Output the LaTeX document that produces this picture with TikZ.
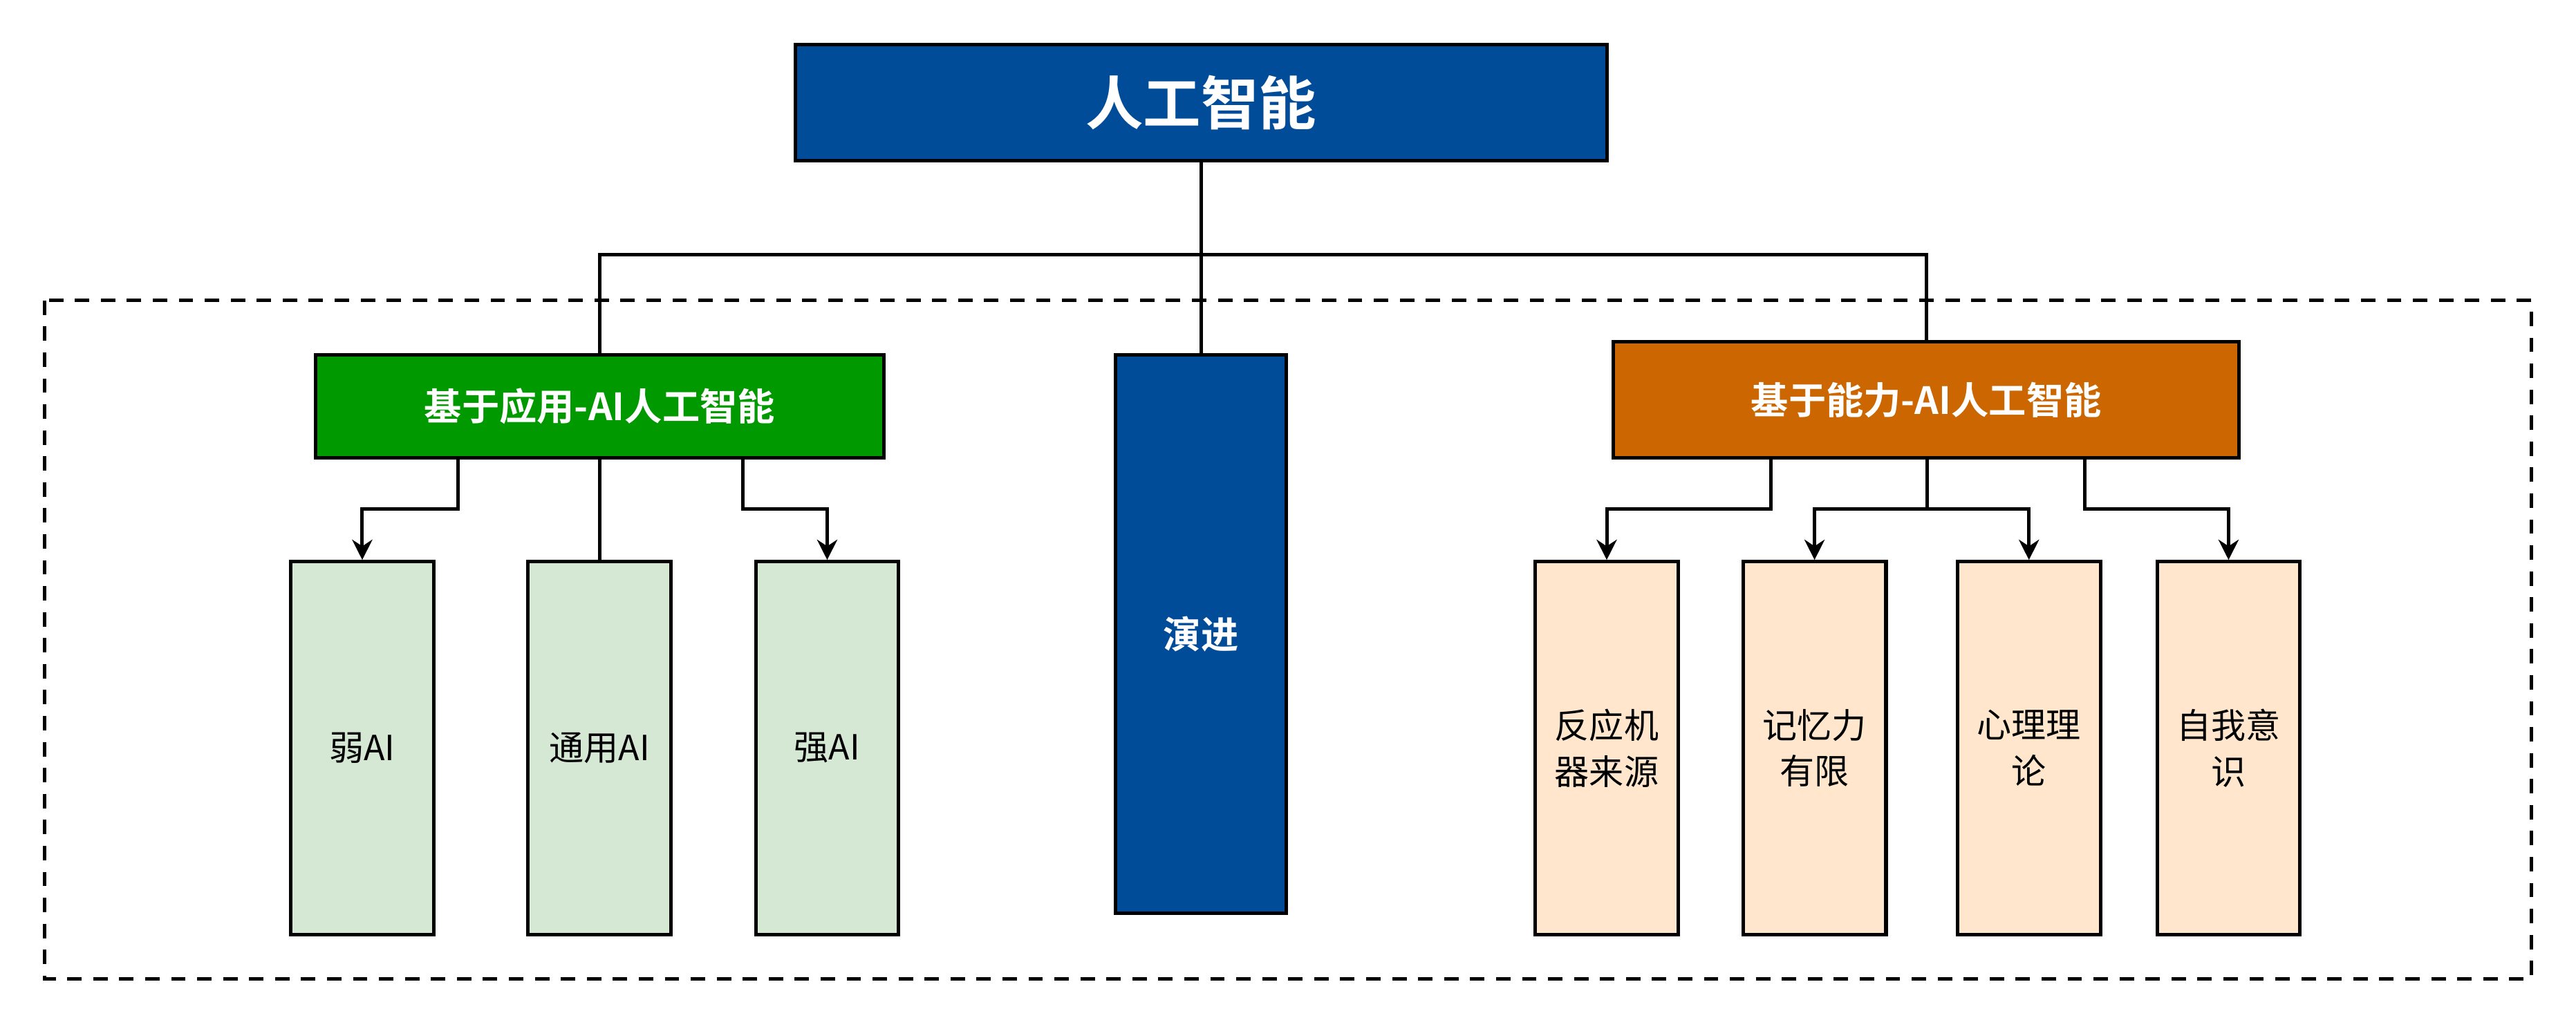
\documentclass[tikz,border=0pt]{standalone}
\usepackage{fontspec}
\setmainfont{Noto Sans CJK SC}
\newfontfamily\cjkb{Noto Sans CJK SC Bold}
\usetikzlibrary{arrows.meta}
\definecolor{dblue}{RGB}{0,76,153}
\definecolor{dgreen}{RGB}{0,153,0}
\definecolor{dorange}{RGB}{204,102,0}
\definecolor{lgreen}{RGB}{213,232,212}
\definecolor{lorange}{RGB}{255,230,204}
\begin{document}
\begin{tikzpicture}[x=0.02cm,y=-0.02cm,
  box/.style={draw=black,line width=1.2pt,inner sep=0},
  head/.style={box,text=white,font=\cjkb\fontsize{13}{15}\selectfont},
  leaf/.style={box,font=\fontsize{12}{16}\selectfont,align=center},
  ln/.style={line width=1.2pt},
  ar/.style={ln,-{Stealth[length=7pt,width=7pt]}}]
\useasboundingbox (0,0) rectangle (1568,621);
\fill[white] (0,0) rectangle (1568,621);
\draw[ln,dashed,dash pattern=on 5pt off 4pt] (27,183) rectangle (1541,596);
\node[head,fill=dblue,font=\cjkb\fontsize{20}{24}\selectfont,minimum width=494*0.02cm,minimum height=71*0.02cm] (top) at (731,62.5) {人工智能};
\node[head,fill=dgreen,minimum width=346*0.02cm,minimum height=63*0.02cm] (L) at (365,247.5) {基于应用-AI人工智能};
\node[head,fill=dblue,minimum width=104*0.02cm,minimum height=340*0.02cm] (M) at (731,386) {演进};
\node[head,fill=dorange,minimum width=381*0.02cm,minimum height=71*0.02cm] (R) at (1172.5,243.5) {基于能力-AI人工智能};
\tikzset{lf/.style={leaf,minimum width=87*0.02cm,minimum height=227*0.02cm}}
\node[lf,fill=lgreen] (l1) at (220.5,455.5) {弱AI};
\node[lf,fill=lgreen] (l2) at (365,455.5) {通用AI};
\node[lf,fill=lgreen] (l3) at (503.5,455.5) {强AI};
\node[lf,fill=lorange] (r1) at (978,455.5) {反应机\\器来源};
\node[lf,fill=lorange] (r2) at (1104.5,455.5) {记忆力\\有限};
\node[lf,fill=lorange] (r3) at (1235,455.5) {心理理\\论};
\node[lf,fill=lorange] (r4) at (1356.5,455.5) {自我意\\识};
\coordinate (j) at (731,155);
\draw[ln] (top.south) -- (j);
\draw[ln] (j) -| (L.north);
\draw[ln] (j) -| (R.north);
\draw[ln] (j) -- (M.north);
\draw[ar] (L.south -| 279,0) |- (220.5,310) -- (l1.north);
\draw[ln] (L.south) -- (l2.north);
\draw[ar] (L.south -| 452,0) |- (503.5,310) -- (l3.north);
\draw[ar] (R.south -| 1078,0) |- (978,310) -- (r1.north);
\draw[ln] (R.south -| 1173,0) -- (1173,310);
\draw[ar] (1173,310) -| (r2.north);
\draw[ar] (1173,310) -| (r3.north);
\draw[ar] (R.south -| 1269,0) |- (1356.5,310) -- (r4.north);
\end{tikzpicture}
\end{document}
